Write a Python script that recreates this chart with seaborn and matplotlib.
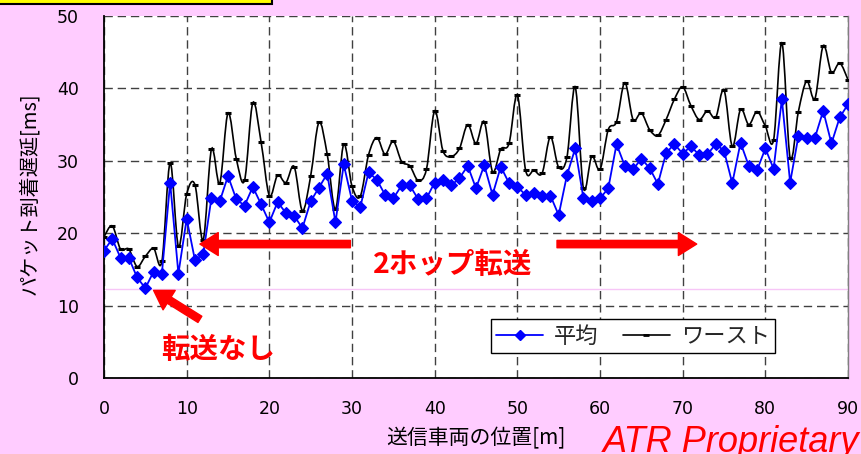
import numpy as np
import pandas as pd
import matplotlib
matplotlib.use("Agg")
import matplotlib.pyplot as plt
import seaborn as sns
from matplotlib.path import Path
from matplotlib.patches import PathPatch, Rectangle
from matplotlib.lines import Line2D

# Sender vehicle position [m]
position = list(range(0, 91))

# Average packet delay [ms]
avg_delay = [
    17.6, 19.2, 16.6, 16.6, 13.9, 12.4, 14.7, 14.4, 27.0, 14.4,
    22.0, 16.3, 17.1, 24.9, 24.4, 27.9, 24.7, 23.8, 26.4, 24.0,
    21.5, 24.3, 22.8, 22.4, 20.7, 24.4, 26.3, 28.2, 21.5, 29.5,
    24.5, 23.6, 28.4, 27.4, 25.3, 24.8, 26.6, 26.6, 24.7, 24.8,
    27.0, 27.4, 26.6, 27.6, 29.3, 26.2, 29.4, 25.3, 29.2, 26.9,
    26.4, 25.3, 25.5, 25.1, 25.2, 22.5, 28.0, 31.7, 24.8, 24.4,
    24.8, 26.2, 32.3, 29.3, 28.8, 30.3, 29.0, 26.8, 31.1, 32.3,
    31.0, 32.0, 30.8, 30.9, 32.3, 31.4, 26.9, 32.5, 29.3, 28.7,
    31.7, 28.9, 38.5, 27.0, 33.4, 33.2, 33.2, 36.9, 32.4, 36.0,
    37.8,
]

# Worst-case packet delay [ms]
worst_delay = [
    19.5, 21.0, 17.8, 17.8, 15.4, 16.8, 17.9, 16.1, 29.7, 18.2,
    25.4, 26.7, 19.1, 31.6, 26.9, 36.6, 30.3, 27.3, 38.0, 32.6,
    25.2, 28.0, 27.0, 29.2, 23.1, 27.9, 35.3, 30.9, 23.3, 32.3,
    26.5, 25.1, 30.8, 33.2, 30.9, 32.7, 29.9, 29.3, 27.3, 28.8,
    36.9, 31.4, 30.6, 31.7, 35.0, 32.4, 35.4, 28.5, 31.6, 32.4,
    39.1, 28.7, 28.7, 28.3, 33.3, 29.1, 30.5, 40.2, 26.2, 30.6,
    28.8, 34.3, 35.4, 40.8, 35.7, 36.6, 34.3, 33.5, 35.7, 38.5,
    40.2, 37.6, 35.7, 36.9, 36.0, 39.8, 32.0, 37.1, 35.0, 36.8,
    34.8, 32.9, 46.3, 30.4, 36.8, 41.0, 38.6, 45.9, 42.2, 43.5,
    41.2,
]

series_labels = ["平均", "ワースト"]
x_ticks = list(range(0, 91, 10))
y_ticks = list(range(0, 51, 10))
no_relay_level = 12.25

df = pd.DataFrame({"pos": position, "avg": avg_delay, "worst": worst_delay})


def smooth_path(xs, ys):
    """Catmull-Rom style cubic Bezier path through the given points."""
    pts = np.column_stack([xs, ys]).astype(float)
    ext = np.vstack([pts[0], pts, pts[-1]])
    verts = [pts[0]]
    codes = [Path.MOVETO]
    for i in range(len(pts) - 1):
        p0, p1, p2, p3 = ext[i], ext[i + 1], ext[i + 2], ext[i + 3]
        c1 = p1 + (p2 - p0) / 6.0
        c2 = p2 - (p3 - p1) / 6.0
        verts += [c1, c2, p2]
        codes += [Path.CURVE4] * 3
    return Path(verts, codes)


sns.set_theme(style="white")
plt.rcParams["font.family"] = ["DejaVu Sans", "Noto Sans CJK JP"]

PINK = "#FFCCFF"
BLUE = "#0000FF"
RED = "#FF0000"
CJK = ["Noto Sans CJK JP", "DejaVu Sans"]

fig = plt.figure(figsize=(8.61, 4.54), dpi=100, facecolor=PINK)
ax = fig.add_axes([104 / 861, 76 / 454, 744 / 861, 362 / 454])
ax.set_facecolor("white")

# faint reference line at the no-relay minimum
ax.axhline(no_relay_level, color="#F7C6F7", lw=1.0, zorder=1)

# worst-case: smoothed line with dash markers
ax.add_patch(PathPatch(smooth_path(df["pos"], df["worst"]), fill=False,
                       edgecolor="black", lw=1.2, zorder=3))
sns.lineplot(data=df, x="pos", y="worst", ax=ax, color="black", linestyle="",
             marker="_", markersize=5, markeredgewidth=2.2,
             markeredgecolor="black", zorder=4)

# average: straight segments with diamonds
sns.lineplot(data=df, x="pos", y="avg", ax=ax, color=BLUE, lw=1.3,
             marker="D", markersize=6, markeredgecolor=BLUE,
             markeredgewidth=0.8, zorder=5)

ax.set_xlim(0, 90)
ax.set_ylim(0, 50)
ax.set_xticks(x_ticks)
ax.set_yticks(y_ticks)
ax.grid(True, color="#404040", linestyle=(0, (6, 3.5)), linewidth=1.0)
ax.set_axisbelow(True)
ax.tick_params(axis="both", length=0, labelsize=12.5, colors="black")
ax.tick_params(axis="x", pad=16)
ax.tick_params(axis="y", pad=18)

for side in ("left", "bottom"):
    ax.spines[side].set_color("black")
    ax.spines[side].set_linewidth(1.3)
ax.spines["right"].set_color("#808080")
ax.spines["right"].set_linewidth(1.0)
ax.spines["top"].set_visible(False)

ax.set_xlabel("送信車両の位置[m]", fontsize=15, family=CJK, color="black")
ax.set_ylabel("パケット到着遅延[ms]", fontsize=14.5, family=CJK, color="black")
ax.xaxis.set_label_coords(0.5, -0.135)
ax.yaxis.set_label_coords(-0.086, 0.51)

# legend
handles = [
    Line2D([], [], color=BLUE, marker="D", markersize=5.5, lw=1.3),
    Line2D([], [], color="black", marker="_", markersize=4,
           markeredgewidth=2, lw=1.2),
]
leg = ax.legend(handles, series_labels, ncol=2, loc="lower left",
                bbox_to_anchor=(0.52, 0.069), borderaxespad=0,
                prop={"family": CJK, "size": 16}, frameon=True,
                fancybox=False, framealpha=1, edgecolor="black",
                borderpad=0.25, handlelength=2.1, handletextpad=0.5,
                columnspacing=1.1)
leg.get_frame().set_linewidth(1.0)

# relay annotations
arrow = dict(arrowstyle="simple,head_length=0.6,head_width=0.75,tail_width=0.24",
             color=RED, shrinkA=0, shrinkB=0, mutation_scale=22)
ax.annotate("", xy=(11.6, 18.5), xytext=(29.8, 18.5), arrowprops=arrow, zorder=6)
ax.annotate("", xy=(71.7, 18.5), xytext=(54.8, 18.5), arrowprops=arrow, zorder=6)
ax.text(42.2, 15.6, "2ホップ転送", color=RED, fontsize=20.5, fontweight="bold",
        ha="center", va="center", family=CJK, zorder=6)

ax.annotate("", xy=(6.0, 12.1), xytext=(11.6, 8.1), arrowprops=arrow, zorder=6)
ax.text(13.8, 3.9, "転送なし", color=RED, fontsize=20.5, fontweight="bold",
        ha="center", va="center", family=CJK, zorder=6)

# title banner edge at the top left
fig.add_artist(Rectangle((-0.01, 450 / 454), 271.5 / 861 + 0.01, 0.05,
                         transform=fig.transFigure, facecolor="#FFFF00",
                         edgecolor="black", lw=1.5, clip_on=False))

fig.text(603 / 861, 2 / 454, "ATR Proprietary", color=RED, fontsize=26,
         style="italic", family=["Liberation Sans", "DejaVu Sans"],
         ha="left", va="baseline")

fig.savefig("out.png", dpi=100, facecolor=PINK)
